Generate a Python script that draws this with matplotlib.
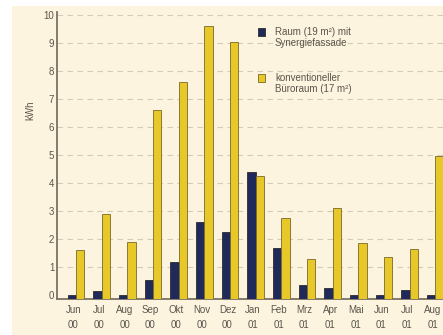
import numpy as np
import matplotlib.pyplot as plt
from matplotlib.patches import Rectangle

# monthly heating energy, Jun 2000 - Aug 2001
months = ["Jun", "Jul", "Aug", "Sep", "Okt", "Nov", "Dez",
          "Jan", "Feb", "Mrz", "Apr", "Mai", "Jun", "Jul", "Aug"]
years = ["00"] * 7 + ["01"] * 8
synergie = [0.0, 0.15, 0.0, 0.55, 1.2, 2.6, 2.25, 4.4, 1.7, 0.35, 0.25, 0.0, 0.02, 0.2, 0.0]
konventionell = [1.6, 2.9, 1.9, 6.6, 7.6, 9.6, 9.05, 4.25, 2.75, 1.3, 3.1, 1.85, 1.35, 1.65, 4.95]

label_synergie = "Raum (19 m²) mit\nSynergiefassade"
label_konv = "konventioneller\nBüroraum (17 m²)"

plt.rcParams["font.family"] = ["Liberation Sans", "DejaVu Sans"]

bg = "#fdf4e0"
text_col = "#5a554c"
blue = "#1f2a5a"
yellow = "#e8c828"

fig = plt.figure(figsize=(4.43, 3.35), dpi=100)
fig.patches.append(Rectangle((12 / 443, 0), 1, 1 - 6 / 335, transform=fig.transFigure,
                             facecolor=bg, edgecolor="none", zorder=-10))

ax = fig.add_axes([57 / 443, 0.106, 1 - 57 / 443, 0.964 - 0.106])
ax.set_facecolor("none")

ymin, ymax = -0.15, 10.1
x = np.arange(len(months))
w = 0.33

ax.bar(x - w / 2, np.array(synergie) - ymin, w, bottom=ymin, color=blue,
       edgecolor="#2b2b2b", linewidth=0.6, zorder=3)
ax.bar(x + w / 2, np.array(konventionell) - ymin, w, bottom=ymin, color=yellow,
       edgecolor="#7a6a2a", linewidth=0.6, zorder=3)

ax.set_xlim(-0.74, 14.3)
ax.set_ylim(ymin, ymax)

ax.set_yticks(range(0, 11))
ax.set_yticklabels([str(i) for i in range(0, 11)])
ax.set_xticks(x - 0.1)
ax.set_xticklabels([f"{m}\n{y}" for m, y in zip(months, years)], linespacing=1.6)
ax.tick_params(axis="both", length=0, labelsize=7, colors=text_col)
ax.tick_params(axis="y", pad=2)
ax.tick_params(axis="x", pad=4)

for yv in range(1, 11):
    ax.axhline(yv, color="#d4ccb8", linewidth=0.8, linestyle=(0, (5, 4)), zorder=1)

for side in ["top", "right"]:
    ax.spines[side].set_visible(False)
for side in ["left", "bottom"]:
    ax.spines[side].set_color("#7a7262")
    ax.spines[side].set_linewidth(1.3)

ax.text(-0.07, 0.66, "kWh", transform=ax.transAxes, rotation=90,
        ha="center", va="center", fontsize=7, color=text_col)

# legend drawn as squares with two-line labels
for ly, col, ec, lab in [(32, blue, "#2b2b2b", label_synergie),
                         (78, yellow, "#7a6a2a", label_konv)]:
    fig.patches.append(Rectangle((258 / 443, 1 - (ly + 4) / 335), 7 / 443, 8 / 335,
                                 transform=fig.transFigure, facecolor=col,
                                 edgecolor=ec, linewidth=0.6))
    fig.text(275 / 443, 1 - (ly - 5) / 335, lab, ha="left", va="top",
             fontsize=7, color=text_col, linespacing=1.1)

fig.savefig("out.png", dpi=100)
